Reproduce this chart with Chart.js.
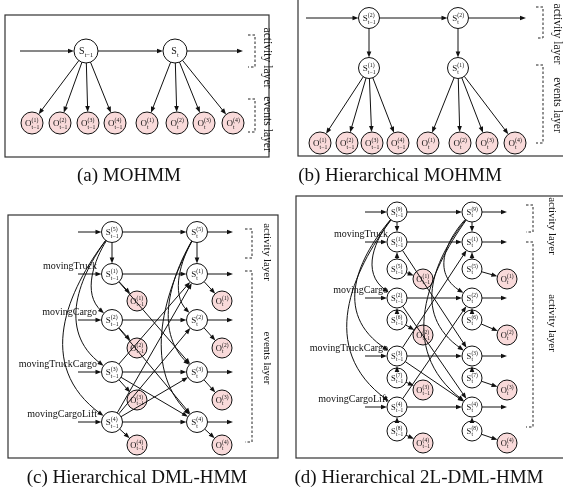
<!DOCTYPE html>
<html>
<head>
<meta charset="utf-8">
<script src="https://cdn.jsdelivr.net/npm/chart.js@4.4.0/dist/chart.umd.min.js"></script>
<style>
  html, body { margin: 0; padding: 0; background: #fff; }
  canvas { display: block; }
</style>
</head>
<body>
<canvas id="diagram" width="563" height="488"></canvas>
<script>
// ---------------- model content ----------------
const timeSlices   = ['t\u22121', 't'];
const eventStreams = ['(1)', '(2)', '(3)', '(4)'];
const chainStates  = ['(1)', '(2)', '(3)', '(4)'];
const subStatesD   = ['(5)', '(6)', '(7)', '(8)'];
const topStateB    = '(2)';
const midStateB    = '(1)';
const topStateC    = '(5)';
const topStateD    = '(9)';
const chainNames   = ['movingTruck', 'movingCargo', 'movingTruckCargo', 'movingCargoLift'];
const captions     = ['(a) MOHMM', '(b) Hierarchical MOHMM', '(c) Hierarchical DML-HMM', '(d) Hierarchical 2L-DML-HMM'];
const layerLabelsA = ['activity layer', 'events layer'];
const layerLabelsB = ['activity layer', 'events layer'];
const layerLabelsC = ['activity layer', 'events layer'];
const layerLabelsD = ['activity layer', 'activity layer'];
// chain i at t-1 feeds chain j at t (1-based)
const couplingC = [[1, 3], [2, 4], [3, 4], [3, 1], [4, 1], [4, 2], [4, 3]];
const couplingD = [[1, 3], [2, 4], [3, 4], [3, 1], [4, 2]];

// ---------------- layout (canvas units) ----------------
const W = 563, H = 488;
const LA = { box: [5, 15, 269, 157], flow: [20, 243], sY: 51, sX: [86, 175], rS: 12, fS: 10,
  oY: 123, oX: [[32, 60, 88, 115], [147, 177, 204, 233]], rO: 11, fO: 9,
  brX: 255, br: [[35, 67], [99, 132]], txX: 267, txY: [58, 124], txF: 11.6, cap: [129, 176] };
const LB = { box: [298, -5, 570, 156], flow: [306, 526], topY: 18, midY: 68, sX: [369, 458], rS: 10.5, fS: 9,
  oY: 143, oX: [[320, 347, 372, 398], [428, 460, 487, 515]], rO: 11, fO: 9,
  brX: 543, br: [[7, 38], [65, 143]], txX: 557, txY: [34, 105], txF: 11.6, cap: [400, 176] };
const LC = { box: [8, 215, 278, 458], flow: [78, 233], topY: 232, sX: [112, 197], oX: [137, 222],
  rowY: [274, 320, 372, 422], oY: [301, 348, 400, 445], rS: 10.5, fS: 9, rO: 10, fO: 8.5,
  reach: [[0, 18, 33, 46], [0, 16, 26, 33]], labelRight: 97,
  brX: 252, br: [[229, 258], [271, 442]], txX: 267, txY: [252, 358], txF: 11, cap: [137, 478] };
const LD = { box: [296, 196, 570, 458], flow: [365, 507], topY: 212, sX: [397, 472], oX: [423, 507],
  rowY: [242, 298, 356, 407], subY: [269, 320, 378, 431], oY: [279, 335, 390, 443],
  rS: 10, fS: 8.5, rO: 10, fO: 8.5,
  reach: [[0, 22, 39, 47], [0, 25, 37, 45]], labelRight: 388,
  brX: 533, br: [[205, 232], [242, 427]], txX: 552, txY: [226, 323], txF: 11, cap: [419, 478] };

const FAM = '"Liberation Serif", "Times New Roman", serif';

// ---------------- graph construction ----------------
const nodes = [];
const edges = [];
function addNode(key, x, y, r, f, main, sup, sub, obs) {
  nodes.push({ key, x, y, r, f, main, sup, sub, obs });
}
const line  = (a, b) => edges.push({ kind: 'line', a, b });
const curve = (a, b, reach) => edges.push({ kind: 'curve', a, b, reach });
const flow  = (y, x0, x1, via) => edges.push({ kind: 'flow', y, x0, x1, via });

// (a) MOHMM
timeSlices.forEach((t, k) => {
  addNode(`a-s${k}`, LA.sX[k], LA.sY, LA.rS, LA.fS, 'S', '', t, false);
  eventStreams.forEach((e, i) => {
    addNode(`a-o${k}${i}`, LA.oX[k][i], LA.oY, LA.rO, LA.fO, 'O', e, t, true);
    line(`a-s${k}`, `a-o${k}${i}`);
  });
});
flow(LA.sY, LA.flow[0], LA.flow[1], ['a-s0', 'a-s1']);

// (b) Hierarchical MOHMM
timeSlices.forEach((t, k) => {
  addNode(`b-top${k}`, LB.sX[k], LB.topY, LB.rS, LB.fS, 'S', topStateB, t, false);
  addNode(`b-mid${k}`, LB.sX[k], LB.midY, LB.rS, LB.fS, 'S', midStateB, t, false);
  line(`b-top${k}`, `b-mid${k}`);
  eventStreams.forEach((e, i) => {
    addNode(`b-o${k}${i}`, LB.oX[k][i], LB.oY, LB.rO, LB.fO, 'O', e, t, true);
    line(`b-mid${k}`, `b-o${k}${i}`);
  });
});
flow(LB.topY, LB.flow[0], LB.flow[1], ['b-top0', 'b-top1']);

// (c) Hierarchical DML-HMM
timeSlices.forEach((t, k) => {
  addNode(`c-top${k}`, LC.sX[k], LC.topY, LC.rS, LC.fS, 'S', topStateC, t, false);
  chainStates.forEach((s, i) => {
    addNode(`c-s${k}${i}`, LC.sX[k], LC.rowY[i], LC.rS, LC.fS, 'S', s, t, false);
    addNode(`c-o${k}${i}`, LC.oX[k], LC.oY[i], LC.rO, LC.fO, 'O', eventStreams[i], t, true);
    line(`c-s${k}${i}`, `c-o${k}${i}`);
    if (i === 0) line(`c-top${k}`, `c-s${k}${i}`);
    else curve(`c-top${k}`, `c-s${k}${i}`, LC.reach[k][i]);
  });
});
flow(LC.topY, LC.flow[0], LC.flow[1], ['c-top0', 'c-top1']);
chainStates.forEach((s, i) => flow(LC.rowY[i], LC.flow[0], LC.flow[1], [`c-s0${i}`, `c-s1${i}`]));
couplingC.forEach(([i, j]) => line(`c-s0${i - 1}`, `c-s1${j - 1}`));

// (d) Hierarchical 2L-DML-HMM
timeSlices.forEach((t, k) => {
  addNode(`d-top${k}`, LD.sX[k], LD.topY, LD.rS, LD.fS, 'S', topStateD, t, false);
  chainStates.forEach((s, i) => {
    addNode(`d-s${k}${i}`, LD.sX[k], LD.rowY[i], LD.rS, LD.fS, 'S', s, t, false);
    addNode(`d-u${k}${i}`, LD.sX[k], LD.subY[i], LD.rS, LD.fS, 'S', subStatesD[i], t, false);
    addNode(`d-o${k}${i}`, LD.oX[k], LD.oY[i], LD.rO, LD.fO, 'O', eventStreams[i], t, true);
    line(`d-u${k}${i}`, `d-s${k}${i}`);
    line(`d-u${k}${i}`, `d-o${k}${i}`);
    if (i === 0) line(`d-top${k}`, `d-s${k}${i}`);
    else curve(`d-top${k}`, `d-s${k}${i}`, LD.reach[k][i]);
  });
});
flow(LD.topY, LD.flow[0], LD.flow[1], ['d-top0', 'd-top1']);
chainStates.forEach((s, i) => flow(LD.rowY[i], LD.flow[0], LD.flow[1], [`d-s0${i}`, `d-s1${i}`]));
couplingD.forEach(([i, j]) => line(`d-s0${i - 1}`, `d-s1${j - 1}`));

const byKey = Object.fromEntries(nodes.map(n => [n.key, n]));

// ---------------- drawing helpers ----------------
function arrowHead(ctx, tx, ty, dx, dy) {
  const len = Math.hypot(dx, dy) || 1;
  const ux = dx / len, uy = dy / len;
  const L = 6, w = 2.3;
  ctx.beginPath();
  ctx.moveTo(tx, ty);
  ctx.lineTo(tx - ux * L - uy * w, ty - uy * L + ux * w);
  ctx.lineTo(tx - ux * L + uy * w, ty - uy * L - ux * w);
  ctx.closePath();
  ctx.fill();
}
function segment(ctx, x0, y0, x1, y1) {
  const dx = x1 - x0, dy = y1 - y0, len = Math.hypot(dx, dy) || 1;
  ctx.beginPath();
  ctx.moveTo(x0, y0);
  ctx.lineTo(x1 - dx / len * 3, y1 - dy / len * 3);
  ctx.stroke();
  arrowHead(ctx, x1, y1, dx, dy);
}
function nodeLabel(ctx, n, cx, cy) {
  const f = n.f, fs = f * 0.64;
  ctx.textAlign = 'left';
  ctx.textBaseline = 'alphabetic';
  ctx.font = `${f}px ${FAM}`;
  const wm = ctx.measureText(n.main).width;
  ctx.font = `${fs}px ${FAM}`;
  const ws = Math.max(n.sup ? ctx.measureText(n.sup).width : 0, ctx.measureText(n.sub).width);
  const x0 = cx - (wm + ws) / 2;
  ctx.font = `${f}px ${FAM}`;
  ctx.fillText(n.main, x0, cy + f * 0.34);
  ctx.font = `${fs}px ${FAM}`;
  if (n.sup) ctx.fillText(n.sup, x0 + wm + 0.2, cy - f * 0.1);
  ctx.fillText(n.sub, x0 + wm + 0.2, cy + f * (n.sup ? 0.62 : 0.55));
}

const panels = [
  { L: LA, layers: layerLabelsA, names: null },
  { L: LB, layers: layerLabelsB, names: null },
  { L: LC, layers: layerLabelsC, names: chainNames },
  { L: LD, layers: layerLabelsD, names: chainNames }
];

const diagramPlugin = {
  id: 'diagram',
  beforeDatasetsDraw(chart) {
    const ctx = chart.ctx;
    const X = v => chart.scales.x.getPixelForValue(v);
    const Y = v => chart.scales.y.getPixelForValue(v);
    ctx.save();
    ctx.fillStyle = '#fff';
    ctx.fillRect(0, 0, chart.width, chart.height);
    panels.forEach((p, idx) => {
      const L = p.L;
      // frame
      ctx.strokeStyle = '#333';
      ctx.lineWidth = 1.2;
      ctx.strokeRect(X(L.box[0]), Y(L.box[1]), X(L.box[2]) - X(L.box[0]), Y(L.box[3]) - Y(L.box[1]));
      // layer brackets
      ctx.strokeStyle = '#222';
      ctx.lineWidth = 1;
      ctx.setLineDash([2.5, 2]);
      L.br.forEach(([y0, y1]) => {
        ctx.beginPath();
        ctx.moveTo(X(L.brX - 7), Y(y0));
        ctx.lineTo(X(L.brX), Y(y0));
        ctx.lineTo(X(L.brX), Y(y1));
        ctx.lineTo(X(L.brX - 7), Y(y1));
        ctx.stroke();
      });
      ctx.setLineDash([]);
      // layer names, rotated
      ctx.fillStyle = '#111';
      ctx.font = `${L.txF}px ${FAM}`;
      ctx.textAlign = 'center';
      ctx.textBaseline = 'middle';
      p.layers.forEach((txt, i) => {
        ctx.save();
        ctx.translate(X(L.txX), Y(L.txY[i]));
        ctx.rotate(Math.PI / 2);
        ctx.fillText(txt, 0, 0);
        ctx.restore();
      });
      // caption
      ctx.font = `19px ${FAM}`;
      ctx.textAlign = 'center';
      ctx.textBaseline = 'middle';
      ctx.fillText(captions[idx], X(L.cap[0]), Y(L.cap[1]));
      // chain names
      if (p.names) {
        ctx.font = `10px ${FAM}`;
        ctx.textAlign = 'right';
        ctx.textBaseline = 'alphabetic';
        p.names.forEach((nm, i) => ctx.fillText(nm, X(L.labelRight), Y(L.rowY[i] - 5)));
      }
    });
    ctx.restore();
  },
  afterDatasetsDraw(chart) {
    const ctx = chart.ctx;
    const X = v => chart.scales.x.getPixelForValue(v);
    const Y = v => chart.scales.y.getPixelForValue(v);
    ctx.save();
    ctx.strokeStyle = '#111';
    ctx.fillStyle = '#111';
    ctx.lineWidth = 1;
    edges.forEach(e => {
      if (e.kind === 'line') {
        const a = byKey[e.a], b = byKey[e.b];
        const ax = X(a.x), ay = Y(a.y), bx = X(b.x), by = Y(b.y);
        const dx = bx - ax, dy = by - ay, len = Math.hypot(dx, dy);
        const ux = dx / len, uy = dy / len;
        segment(ctx, ax + ux * a.r, ay + uy * a.r, bx - ux * b.r, by - uy * b.r);
      } else if (e.kind === 'flow') {
        const pts = e.via.map(k => byKey[k]);
        const y = Y(e.y);
        segment(ctx, X(e.x0), y, X(pts[0].x - pts[0].r), y);
        for (let i = 0; i < pts.length - 1; i++) {
          segment(ctx, X(pts[i].x + pts[i].r), y, X(pts[i + 1].x - pts[i + 1].r), y);
        }
        const last = pts[pts.length - 1];
        segment(ctx, X(last.x + last.r), y, X(e.x1), y);
      } else if (e.kind === 'curve') {
        const a = byKey[e.a], b = byKey[e.b];
        const ax = X(a.x), ay = Y(a.y), bx = X(b.x), by = Y(b.y);
        const h = by - ay;
        const bow = e.reach / 0.64;
        const c1x = ax - bow * 0.6, c1y = ay + h * 0.3;
        const c2x = bx - bow * 1.1, c2y = by - h * 0.3;
        let d = Math.hypot(c1x - ax, c1y - ay);
        const p0x = ax + (c1x - ax) / d * a.r, p0y = ay + (c1y - ay) / d * a.r;
        d = Math.hypot(c2x - bx, c2y - by);
        const p3x = bx + (c2x - bx) / d * b.r, p3y = by + (c2y - by) / d * b.r;
        const ex = p3x - c2x, ey = p3y - c2y, el = Math.hypot(ex, ey);
        ctx.beginPath();
        ctx.moveTo(p0x, p0y);
        ctx.bezierCurveTo(c1x, c1y, c2x, c2y, p3x - ex / el * 3, p3y - ey / el * 3);
        ctx.stroke();
        arrowHead(ctx, p3x, p3y, ex, ey);
      }
    });
    ctx.fillStyle = '#111';
    nodes.forEach(n => nodeLabel(ctx, n, X(n.x), Y(n.y)));
    ctx.restore();
  }
};

new Chart(document.getElementById('diagram'), {
  type: 'scatter',
  data: {
    datasets: [
      {
        label: 'states',
        data: nodes.filter(n => !n.obs),
        backgroundColor: '#ffffff',
        borderColor: '#111111',
        borderWidth: 1,
        pointRadius: c => (c.raw ? c.raw.r : 10),
        pointHoverRadius: c => (c.raw ? c.raw.r : 10)
      },
      {
        label: 'observations',
        data: nodes.filter(n => n.obs),
        backgroundColor: '#f9dada',
        borderColor: '#111111',
        borderWidth: 1,
        pointRadius: c => (c.raw ? c.raw.r : 10),
        pointHoverRadius: c => (c.raw ? c.raw.r : 10)
      }
    ]
  },
  options: {
    responsive: false,
    animation: false,
    events: [],
    layout: { autoPadding: false, padding: 0 },
    scales: {
      x: { type: 'linear', min: 0, max: W, display: false },
      y: { type: 'linear', min: 0, max: H, reverse: true, display: false }
    },
    plugins: { legend: { display: false }, tooltip: { enabled: false } }
  },
  plugins: [diagramPlugin]
});
</script>
</body>
</html>
